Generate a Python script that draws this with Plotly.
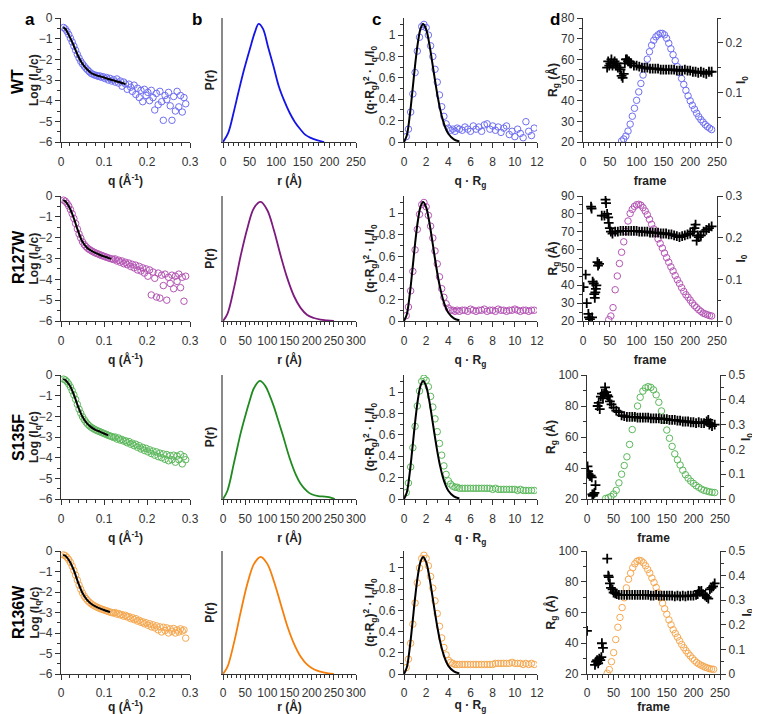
import plotly.graph_objects as go

# ---------------- data ----------------
# column a: log(Iq/c) vs q
Q_A = [0.006, 0.010, 0.014, 0.018, 0.022, 0.026, 0.030, 0.034, 0.038, 0.042, 0.046, 0.050,
       0.054, 0.058, 0.062, 0.066, 0.070, 0.074, 0.078, 0.082, 0.086, 0.090, 0.094, 0.098,
       0.102, 0.106, 0.110, 0.114, 0.118, 0.122, 0.126, 0.130, 0.134, 0.138, 0.142, 0.146,
       0.150, 0.154, 0.158, 0.162, 0.166, 0.170, 0.174, 0.178, 0.182, 0.186, 0.190, 0.194,
       0.198, 0.202, 0.206, 0.210, 0.214, 0.218, 0.222, 0.226, 0.230, 0.234, 0.238, 0.242,
       0.246, 0.250, 0.254, 0.258, 0.262, 0.266, 0.270, 0.274, 0.278, 0.282, 0.286, 0.290]

WT_LOGI = [-0.46, -0.53, -0.65, -0.80, -0.98, -1.16, -1.36, -1.56, -1.76, -1.94, -2.10, -2.22,
           -2.33, -2.43, -2.52, -2.60, -2.68, -2.72, -2.76, -2.78, -2.82, -2.80, -2.87, -2.84,
           -2.93, -2.88, -3.00, -2.92, -3.05, -2.98, -3.10, -2.95, -3.15, -3.05, -3.30, -3.10,
           -3.20, -3.45, -3.20, -3.35, -3.55, -3.25, -3.70, -3.40, -3.85, -3.50, -4.05, -3.45,
           -3.75, -3.60, -4.00, -3.50, -3.85, -4.45, -3.65, -4.20, -3.55, -4.05, -4.95, -3.75,
           -3.95, -3.60, -4.25, -4.95, -3.80, -4.50, -3.55, -4.30, -3.75, -4.55, -3.85, -4.15]
R127W_LOGI = [-0.20, -0.25, -0.35, -0.48, -0.65, -0.85, -1.08, -1.32, -1.58, -1.82, -2.02, -2.20,
              -2.33, -2.43, -2.51, -2.57, -2.62, -2.67, -2.71, -2.75, -2.78, -2.82, -2.85, -2.88,
              -2.91, -2.94, -2.97, -3.00, -3.02, -3.05, -3.02, -3.12, -3.08, -3.18, -3.12, -3.25,
              -3.18, -3.30, -3.22, -3.38, -3.28, -3.45, -3.32, -3.55, -3.38, -3.60, -3.45, -3.70,
              -3.50, -3.85, -3.55, -4.75, -3.65, -3.95, -4.85, -3.70, -4.90, -3.80, -4.30, -3.75,
              -5.00, -3.90, -4.20, -3.80, -4.45, -3.85, -4.10, -3.75, -4.40, -3.90, -5.05, -3.85]
S135F_LOGI = [-0.20, -0.24, -0.32, -0.44, -0.58, -0.76, -0.96, -1.18, -1.42, -1.65, -1.85, -2.02,
              -2.16, -2.28, -2.38, -2.46, -2.53, -2.58, -2.63, -2.67, -2.71, -2.74, -2.78, -2.81,
              -2.85, -2.88, -2.92, -2.95, -2.98, -3.02, -3.00, -3.10, -3.05, -3.15, -3.12, -3.20,
              -3.18, -3.28, -3.22, -3.35, -3.30, -3.42, -3.35, -3.50, -3.42, -3.58, -3.50, -3.65,
              -3.55, -3.72, -3.62, -3.80, -3.68, -3.88, -3.72, -3.95, -3.78, -4.00, -3.82, -4.08,
              -3.85, -4.15, -3.90, -4.10, -3.88, -4.22, -3.92, -4.10, -3.85, -4.30, -3.95, -4.10]
R136W_LOGI = [-0.19, -0.23, -0.31, -0.42, -0.56, -0.74, -0.95, -1.18, -1.42, -1.66, -1.87, -2.05,
              -2.20, -2.32, -2.42, -2.50, -2.57, -2.63, -2.68, -2.72, -2.76, -2.80, -2.83, -2.86,
              -2.89, -2.92, -2.95, -2.98, -3.00, -3.03, -3.00, -3.08, -3.05, -3.12, -3.10, -3.18,
              -3.14, -3.22, -3.20, -3.30, -3.25, -3.35, -3.30, -3.42, -3.38, -3.48, -3.45, -3.55,
              -3.50, -3.62, -3.55, -3.70, -3.60, -3.75, -3.65, -3.85, -3.70, -3.95, -3.72, -3.88,
              -3.75, -4.00, -3.80, -3.92, -3.78, -4.00, -3.85, -3.95, -3.80, -3.90, -3.85, -4.25]

# fitted curves in column a
WT_FIT_Q = [0.005, 0.01, 0.02, 0.03, 0.04, 0.05, 0.06, 0.07, 0.08, 0.09, 0.10, 0.11, 0.12, 0.13, 0.14, 0.15]
WT_FIT = [-0.46, -0.52, -0.90, -1.36, -1.85, -2.22, -2.47, -2.66, -2.75, -2.82, -2.88, -2.95, -3.01, -3.07, -3.13, -3.19]
R127W_FIT_Q = [0.005, 0.01, 0.02, 0.03, 0.04, 0.05, 0.06, 0.07, 0.08, 0.09, 0.10, 0.11, 0.117]
R127W_FIT = [-0.20, -0.25, -0.56, -1.08, -1.70, -2.20, -2.47, -2.62, -2.73, -2.82, -2.90, -2.97, -3.02]
S135F_FIT_Q = [0.005, 0.01, 0.02, 0.03, 0.04, 0.05, 0.06, 0.07, 0.08, 0.09, 0.10, 0.11]
S135F_FIT = [-0.20, -0.24, -0.50, -0.96, -1.54, -2.02, -2.33, -2.52, -2.65, -2.74, -2.83, -2.92]
R136W_FIT_Q = [0.005, 0.01, 0.02, 0.03, 0.04, 0.05, 0.06, 0.07, 0.08, 0.09, 0.10, 0.11, 0.114]
R136W_FIT = [-0.19, -0.23, -0.50, -0.95, -1.55, -2.05, -2.37, -2.57, -2.70, -2.80, -2.88, -2.95, -2.98]

# column b: P(r), normalised to peak
WT_R = [0, 10, 20, 30, 40, 50, 60, 67, 75, 85, 95, 105, 115, 125, 135, 145, 155, 165, 175, 190]
WT_PR = [0, 0.08, 0.25, 0.44, 0.62, 0.78, 0.93, 1.0, 0.96, 0.80, 0.64, 0.47, 0.35, 0.25, 0.17, 0.11, 0.06, 0.035, 0.018, 0]
R127W_R = [0, 10, 25, 40, 55, 70, 85, 100, 115, 130, 145, 160, 175, 190, 205, 220, 235, 250]
R127W_PR = [0, 0.06, 0.28, 0.55, 0.78, 0.95, 1.0, 0.93, 0.76, 0.55, 0.36, 0.21, 0.11, 0.05, 0.025, 0.012, 0.005, 0]
S135F_R = [0, 10, 25, 40, 50, 60, 70, 83, 95, 105, 115, 125, 135, 150, 165, 175, 190, 200, 215, 230, 245, 252]
S135F_PR = [0, 0.07, 0.31, 0.56, 0.70, 0.83, 0.94, 1.0, 0.96, 0.88, 0.78, 0.66, 0.54, 0.35, 0.20, 0.13, 0.065, 0.04, 0.025, 0.02, 0.01, 0]
R136W_R = [0, 10, 25, 40, 55, 70, 85, 100, 115, 130, 145, 160, 175, 190, 205, 220, 235, 250]
R136W_PR = [0, 0.06, 0.27, 0.53, 0.77, 0.94, 1.0, 0.94, 0.79, 0.60, 0.41, 0.26, 0.15, 0.08, 0.04, 0.02, 0.008, 0]

# column c: dimensionless Kratky
X_C = [0.2, 0.4, 0.6, 0.8, 1.0, 1.2, 1.4, 1.6, 1.8, 2.0, 2.2, 2.4, 2.6,
       2.8, 3.0, 3.2, 3.4, 3.6, 3.8, 4.0, 4.2, 4.4, 4.6, 4.8, 5.0, 5.25,
       5.5, 5.75, 6.0, 6.25, 6.5, 6.75, 7.0, 7.25, 7.5, 7.75, 8.0, 8.25, 8.5,
       8.75, 9.0, 9.25, 9.5, 9.75, 10.0, 10.25, 10.5, 10.75, 11.0, 11.25, 11.5, 11.75]
WT_KR = [0.05, 0.12, 0.28, 0.45, 0.65, 0.85, 0.98, 1.08, 1.10, 1.07, 1.00, 0.90, 0.80,
         0.68, 0.56, 0.44, 0.33, 0.24, 0.17, 0.13, 0.11, 0.12, 0.10, 0.13, 0.12, 0.11,
         0.14, 0.12, 0.10, 0.15, 0.12, 0.14, 0.10, 0.16, 0.17, 0.12, 0.15, 0.11, 0.14,
         0.09, 0.13, 0.15, 0.07, 0.10, 0.05, 0.12, 0.08, 0.04, 0.19, 0.10, 0.06, 0.13]
R127W_KR = [0.05, 0.13, 0.28, 0.46, 0.66, 0.85, 0.99, 1.08, 1.10, 1.06, 0.98, 0.88, 0.77,
            0.65, 0.53, 0.41, 0.30, 0.22, 0.16, 0.12, 0.10, 0.10, 0.09, 0.10, 0.09, 0.10,
            0.10, 0.09, 0.11, 0.10, 0.09, 0.10, 0.10, 0.11, 0.09, 0.10, 0.10, 0.09, 0.11,
            0.10, 0.10, 0.09, 0.10, 0.10, 0.11, 0.10, 0.09, 0.10, 0.10, 0.09, 0.10, 0.10]
S135F_KR = [0.06, 0.15, 0.30, 0.48, 0.68, 0.87, 1.01, 1.10, 1.13, 1.11, 1.05, 0.96, 0.86,
            0.75, 0.63, 0.52, 0.41, 0.31, 0.23, 0.17, 0.14, 0.12, 0.11, 0.11, 0.10, 0.10,
            0.10, 0.10, 0.10, 0.10, 0.10, 0.10, 0.10, 0.10, 0.10, 0.10, 0.09, 0.10, 0.09,
            0.09, 0.09, 0.09, 0.09, 0.09, 0.09, 0.08, 0.09, 0.08, 0.08, 0.08, 0.08, 0.08]
R136W_KR = [0.06, 0.14, 0.29, 0.47, 0.67, 0.86, 1.00, 1.09, 1.12, 1.09, 1.02, 0.92, 0.81,
            0.69, 0.57, 0.45, 0.34, 0.25, 0.18, 0.13, 0.11, 0.10, 0.09, 0.09, 0.09, 0.09,
            0.09, 0.09, 0.09, 0.09, 0.09, 0.09, 0.09, 0.09, 0.09, 0.09, 0.09, 0.10, 0.10,
            0.10, 0.10, 0.10, 0.10, 0.11, 0.10, 0.10, 0.10, 0.09, 0.10, 0.09, 0.10, 0.09]
# globular reference curve
KR_X = [0, 0.25, 0.5, 0.75, 1.0, 1.25, 1.5, 1.73, 2.0, 2.25, 2.5, 2.75, 3.0, 3.25, 3.5, 3.75, 4.0, 4.5, 5.0]
KR_Y = [0, 0.061, 0.230, 0.466, 0.717, 0.928, 1.063, 1.104, 1.054, 0.937, 0.778, 0.608, 0.448, 0.312,
        0.207, 0.130, 0.077, 0.024, 0.006]

# column d: Rg (crosses, left) and I0 (circles, right) vs frame
WT_RG_F = [45, 47, 49, 51, 53, 55, 57, 59, 61, 63, 65, 68, 70, 72, 74, 76, 78, 80, 82, 84, 86, 88, 90,
           95, 100, 105, 110, 115, 120, 125, 130, 135, 140, 145, 150, 155, 160, 165, 170, 175, 180,
           185, 190, 195, 200, 205, 210, 215, 220, 225, 230, 235, 240]
WT_RG = [56, 59, 57, 58, 60, 57, 58, 59, 57, 58, 56, 56, 55, 52, 51, 53, 58, 60, 60, 59, 59, 58, 58,
         57, 57, 56.5, 56, 56, 56, 55.5, 55.5, 55.5, 55.5, 55, 55, 55, 55, 55, 55, 54.5, 54.5,
         54.5, 55, 54.5, 54.5, 54, 54, 53.5, 54, 53.5, 53, 54, 54]
WT_I0_F = [72, 76, 80, 84, 88, 92, 96, 100, 104, 108, 112, 116, 120, 124, 128, 132, 136, 140, 144,
           148, 152, 156, 160, 164, 168, 172, 176, 180, 184, 188, 192, 196, 200, 204, 208, 212, 216,
           220, 224, 228, 232, 236, 240]
WT_I0 = [0.002, 0.006, 0.012, 0.022, 0.036, 0.052, 0.068, 0.084, 0.101, 0.118, 0.135, 0.152, 0.167,
         0.182, 0.195, 0.205, 0.212, 0.216, 0.219, 0.219, 0.216, 0.209, 0.199, 0.188, 0.176, 0.164,
         0.152, 0.140, 0.128, 0.116, 0.104, 0.093, 0.083, 0.074, 0.066, 0.058, 0.051, 0.045, 0.040,
         0.035, 0.031, 0.028, 0.025]

R127W_RG_F = [1, 5, 7, 10, 11, 13, 15, 16, 17, 18, 20, 21, 22, 23, 24, 25, 27, 28, 30, 35,
              40, 42, 43, 45, 47, 48, 50, 52, 55, 60, 65, 70, 75, 80, 85, 90, 95, 100, 105, 110,
              115, 120, 125, 130, 135, 140, 145, 150, 155, 160, 165, 170, 175, 180, 185, 190, 195,
              200, 205, 208, 210, 212, 214, 216, 220, 225, 230, 235, 240]
R127W_RG = [39, 46, 30, 24, 22, 21, 84, 83, 22, 42, 41, 35, 33, 36, 38, 40, 53, 51, 52, 79,
            79, 88, 86, 80, 78, 75, 72, 70, 69, 70, 70, 70.5, 70.5, 70.5, 70.5, 70.5, 70.5, 70.5, 70, 70,
            70, 70, 69.5, 69.5, 69.5, 69.5, 69, 69, 69, 68.5, 68.5, 68, 67.5, 67, 67.5, 68, 68.5,
            69, 70, 72, 74, 65, 68, 67, 68, 70, 71, 72, 73]
R127W_I0_F = [48, 52, 56, 60, 64, 68, 72, 76, 80, 84, 88, 92, 96, 100, 104, 108, 112, 116, 120, 124,
              128, 132, 136, 140, 144, 148, 152, 156, 160, 164, 168, 172, 176, 180, 184, 188, 192,
              196, 200, 204, 208, 212, 216, 220, 224, 228, 232, 236, 240]
R127W_I0 = [0.003, 0.012, 0.032, 0.075, 0.108, 0.138, 0.165, 0.190, 0.215, 0.240, 0.258, 0.268, 0.275,
            0.279, 0.280, 0.278, 0.272, 0.264, 0.255, 0.244, 0.232, 0.221, 0.210, 0.197, 0.186, 0.175,
            0.163, 0.152, 0.141, 0.130, 0.120, 0.109, 0.099, 0.090, 0.080, 0.071, 0.063, 0.057, 0.050,
            0.043, 0.037, 0.032, 0.027, 0.023, 0.019, 0.017, 0.015, 0.013, 0.012]

S135F_RG_F = [1, 2, 3, 5, 7, 9, 10, 11, 12, 14, 16, 20, 22, 24, 26, 28, 30, 32, 34, 36, 38, 40, 43, 46,
              50, 55, 60, 65, 70, 75, 80, 85, 90, 95, 100, 105, 110, 115, 120, 125, 130, 135, 140, 145,
              150, 155, 160, 165, 170, 175, 180, 185, 190, 195, 200, 205, 210, 215, 220, 225, 228, 230,
              232, 235, 240]
S135F_RG = [41, 38, 36, 35, 35, 34, 23, 22, 23, 24, 29, 80, 82, 78, 86, 88, 85, 88, 92, 89, 87, 86, 83, 81,
            79, 77, 76, 74, 73.5, 73, 73, 73, 73, 72.5, 72.5, 72.5, 72.5, 72.5, 72, 72, 72, 72, 71.5, 71.5,
            71.5, 71, 71, 71, 70.5, 70.5, 70, 70, 70, 69.5, 69.5, 69, 69.5, 69, 69, 70, 71, 68,
            69, 67, 68]
S135F_I0_F = [35, 40, 45, 50, 55, 60, 65, 70, 75, 80, 85, 90, 95, 100, 105, 110, 115, 120, 125, 130,
              135, 140, 145, 150, 155, 160, 165, 170, 175, 180, 185, 190, 195, 200, 205, 210, 215, 220,
              225, 230, 235, 240]
S135F_I0 = [0.002, 0.005, 0.010, 0.020, 0.035, 0.065, 0.100, 0.135, 0.170, 0.220, 0.280, 0.330, 0.375,
            0.410, 0.435, 0.448, 0.453, 0.450, 0.440, 0.420, 0.390, 0.355, 0.318, 0.278, 0.245, 0.212,
            0.182, 0.158, 0.137, 0.116, 0.098, 0.084, 0.072, 0.063, 0.054, 0.047, 0.040, 0.035, 0.032,
            0.029, 0.027, 0.026]

R136W_RG_F = [0, 15, 17, 19, 21, 23, 25, 27, 28, 30, 38, 40, 41, 43, 45, 48, 50, 53, 56, 60,
              65, 70, 75, 80, 85, 90, 95, 100, 105, 110, 115, 120, 125, 130, 135, 140, 145, 150, 155,
              160, 165, 170, 175, 180, 185, 190, 195, 200, 205, 208, 210, 212, 215, 218, 222, 225, 228,
              231, 234, 237, 240]
R136W_RG = [48, 26, 28, 29, 27, 30, 29, 31, 40, 37, 95, 84, 83, 79, 76, 75, 73, 72.5, 72, 71.5,
            71.5, 71.5, 71.5, 71.5, 71.5, 71.5, 71.5, 71.5, 71.5, 71.5, 71.5, 71, 71, 71.5, 71, 71, 71, 71, 71,
            71, 70.5, 71, 70.5, 71, 70.5, 71, 71, 71, 71.5, 72, 74, 73.5, 74, 72, 71, 70, 69,
            75, 76, 77, 79]
R136W_I0_F = [38, 42, 46, 50, 54, 58, 62, 66, 70, 74, 78, 82, 86, 90, 94, 98, 102, 106, 110, 114,
              118, 122, 126, 130, 134, 138, 142, 146, 150, 154, 158, 162, 166, 170, 174, 178, 182, 186,
              190, 194, 198, 202, 206, 210, 214, 218, 222, 226, 230, 234, 238]
R136W_I0 = [0.003, 0.018, 0.050, 0.087, 0.140, 0.190, 0.230, 0.270, 0.310, 0.350, 0.385, 0.410, 0.432,
            0.448, 0.458, 0.462, 0.460, 0.452, 0.440, 0.425, 0.410, 0.390, 0.372, 0.352, 0.330, 0.310,
            0.288, 0.265, 0.243, 0.220, 0.200, 0.180, 0.165, 0.150, 0.135, 0.120, 0.107, 0.095, 0.084,
            0.074, 0.064, 0.055, 0.047, 0.041, 0.036, 0.032, 0.028, 0.025, 0.022, 0.020, 0.019]

SAMPLES = ["WT", "R127W", "S135F", "R136W"]
LINE_COLORS = ["#1414e6", "#7d1a7d", "#1f8a1f", "#f57f0a"]
DOT_COLORS = ["#6f6ff2", "#b455b4", "#5cb85c", "#f5a850"]
PR_XMAX = [250, 300, 300, 300]
RG_RANGES = [[20, 80], [20, 90], [20, 100], [20, 100]]
RG_DTICK = [10, 10, 20, 20]
I0_MAX = [0.25, 0.3, 0.5, 0.5]

LOGI = [WT_LOGI, R127W_LOGI, S135F_LOGI, R136W_LOGI]
FIT_Q = [WT_FIT_Q, R127W_FIT_Q, S135F_FIT_Q, R136W_FIT_Q]
FIT = [WT_FIT, R127W_FIT, S135F_FIT, R136W_FIT]
PR_R = [WT_R, R127W_R, S135F_R, R136W_R]
PR = [WT_PR, R127W_PR, S135F_PR, R136W_PR]
KR = [WT_KR, R127W_KR, S135F_KR, R136W_KR]
RG_F = [WT_RG_F, R127W_RG_F, S135F_RG_F, R136W_RG_F]
RG = [WT_RG, R127W_RG, S135F_RG, R136W_RG]
I0_F = [WT_I0_F, R127W_I0_F, S135F_I0_F, R136W_I0_F]
I0 = [WT_I0, R127W_I0, S135F_I0, R136W_I0]

# ---------------- layout helpers ----------------
# the page body adds an 8px margin, so the figure is drawn 8px in from the window corner
OFF = 8
W, H = 752, 706
FONT = "Liberation Sans, Arial, sans-serif"
AXC = "#333333"
COL_X = [(61, 190), (223, 356), (404, 537), (583, 717)]
COL_D_WIDE = (587, 720)
ROW_Y = [(18, 142), (196, 321), (375, 499), (551, 674)]
TITLE_FONT = dict(family=FONT, size=12, color="#222", weight="bold")


def dom_x(px):
    return [(px[0] - OFF) / W, (px[1] - OFF) / W]


def dom_y(py):
    return [1 - (py[1] - OFF) / H, 1 - (py[0] - OFF) / H]


def px_x(x):
    return (x - OFF) / W


def px_y(y):
    return 1 - (y - OFF) / H


def axis(title, minor=None, standoff=None, **kw):
    t = dict(text=title, font=TITLE_FONT)
    if standoff is not None:
        t["standoff"] = standoff
    d = dict(showline=True, linecolor=AXC, linewidth=1.3, ticks="outside", ticklen=5,
             tickwidth=1.3, tickcolor=AXC, showgrid=False, zeroline=False, automargin=False,
             tickangle=0, tickfont=dict(family=FONT, size=12, color="#333"), title=t)
    if minor is not None:
        d["minor"] = dict(dtick=minor, ticks="outside", ticklen=2.5, tickwidth=1, tickcolor=AXC, showgrid=False)
    d.update(kw)
    return d


def xaxis(title, minor, last_row, **kw):
    return axis(title, minor=minor, standoff=6 if last_row else 9,
                ticklabelstandoff=2 if last_row else 3, **kw)


def key(prefix, n):
    return prefix + "axis" + ("" if n == 1 else str(n))


def ref(prefix, n):
    return prefix + ("" if n == 1 else str(n))


fig = go.Figure()
lay = {}
annotations = []

for i in range(4):
    pa, pb, pc, pd = 4 * i + 1, 4 * i + 2, 4 * i + 3, 4 * i + 4
    prg = 17 + i
    last = i == 3
    ydom = dom_y(ROW_Y[i])
    row_mid = (ROW_Y[i][0] + ROW_Y[i][1]) / 2
    col_d = COL_X[3] if i < 2 else COL_D_WIDE

    # a: scattering curve
    fig.add_trace(go.Scatter(x=Q_A, y=LOGI[i], mode="markers", xaxis=ref("x", pa), yaxis=ref("y", pa),
                             marker=dict(symbol="circle-open", size=6.5, color=DOT_COLORS[i], line=dict(width=1))))
    fig.add_trace(go.Scatter(x=FIT_Q[i], y=FIT[i], mode="lines", line=dict(color="black", width=2, shape="spline"),
                             xaxis=ref("x", pa), yaxis=ref("y", pa)))
    lay[key("x", pa)] = xaxis("q (Å<sup>-1</sup>)", 0.02, last, domain=dom_x(COL_X[0]),
                             anchor=ref("y", pa), range=[0, 0.3], dtick=0.1, tick0=0)
    lay[key("y", pa)] = axis("", minor=0.5, domain=ydom, anchor=ref("x", pa),
                            range=[-6, 0], dtick=1, tick0=0)
    annotations.append(dict(text="Log (I<sub>q</sub>/c)", x=px_x(35), y=px_y(row_mid), xref="paper", yref="paper",
                            xanchor="center", yanchor="middle", showarrow=False, textangle=-90, font=TITLE_FONT))

    # b: pair distance distribution
    fig.add_trace(go.Scatter(x=PR_R[i], y=PR[i], mode="lines", line=dict(color=LINE_COLORS[i], width=1.8, shape="spline"),
                             xaxis=ref("x", pb), yaxis=ref("y", pb)))
    lay[key("x", pb)] = xaxis("r (Å)", 10, last, domain=dom_x(COL_X[1]), anchor=ref("y", pb),
                             range=[0, PR_XMAX[i]], dtick=50, tick0=0)
    lay[key("y", pb)] = axis("P(r)", domain=ydom, anchor=ref("x", pb), range=[0, 1.05],
                            ticks="", showticklabels=False, linecolor="#8a8a8a", linewidth=1.6, standoff=4)

    # c: dimensionless Kratky
    fig.add_trace(go.Scatter(x=X_C, y=KR[i], mode="markers", xaxis=ref("x", pc), yaxis=ref("y", pc),
                             marker=dict(symbol="circle-open", size=6.5, color=DOT_COLORS[i], line=dict(width=1))))
    fig.add_trace(go.Scatter(x=KR_X, y=KR_Y, mode="lines", line=dict(color="black", width=2, shape="spline"),
                             xaxis=ref("x", pc), yaxis=ref("y", pc)))
    lay[key("x", pc)] = xaxis("q · R<sub>g</sub>", 1, last, domain=dom_x(COL_X[2]),
                             anchor=ref("y", pc), range=[0, 12], dtick=2, tick0=0)
    lay[key("y", pc)] = axis("(q·R<sub>g</sub>)<sup>2</sup> · I<sub>q</sub>/I<sub>0</sub>", minor=0.1, standoff=0,
                            domain=ydom, anchor=ref("x", pc), range=[0, 1.16], dtick=0.2, tick0=0)

    # d: SEC elution, I0 on the right (base), Rg on the left (overlay, drawn on top)
    fig.add_trace(go.Scatter(x=I0_F[i], y=I0[i], mode="markers", xaxis=ref("x", pd), yaxis=ref("y", pd),
                             marker=dict(symbol="circle-open", size=6.5, color=DOT_COLORS[i], line=dict(width=1))))
    fig.add_trace(go.Scatter(x=RG_F[i], y=RG[i], mode="markers", xaxis=ref("x", pd), yaxis=ref("y", prg),
                             marker=dict(symbol="cross-thin", size=7, color="black", line=dict(width=1.8, color="black"))))
    lay[key("x", pd)] = xaxis("frame", 10, last, domain=dom_x(col_d), anchor=ref("y", pd),
                             range=[0, 250], dtick=50, tick0=0)
    lay[key("y", pd)] = axis("", minor=0.05, domain=ydom, anchor=ref("x", pd), side="right",
                            range=[0, I0_MAX[i]], dtick=0.1, tick0=0)
    annotations.append(dict(text="I<sub>0</sub>", x=px_x(742 if i < 2 else 747), y=px_y(row_mid),
                            xref="paper", yref="paper", xanchor="center", yanchor="middle", showarrow=False,
                            textangle=-90, font=TITLE_FONT))
    lay[key("y", prg)] = axis("R<sub>g</sub> (Å)", minor=RG_DTICK[i] / 2, standoff=0, anchor=ref("x", pd),
                             overlaying=ref("y", pd), side="left", range=RG_RANGES[i], dtick=RG_DTICK[i], tick0=0)

for letter, x in zip("abcd", [30, 197, 376, 555]):
    annotations.append(dict(text=letter, x=px_x(x), y=1, xref="paper", yref="paper",
                            xanchor="center", yanchor="top", showarrow=False,
                            font=dict(family=FONT, size=17, color="black", weight="bold")))
for name, y in zip(SAMPLES, [82, 257, 438, 612]):
    annotations.append(dict(text=name, x=px_x(18), y=px_y(y), xref="paper", yref="paper",
                            xanchor="center", yanchor="middle", showarrow=False, textangle=-90,
                            font=dict(family=FONT, size=16, color="black", weight="bold")))

fig.update_layout(width=W, height=H, margin=dict(l=0, r=0, t=0, b=0), template="none",
                  paper_bgcolor="white", plot_bgcolor="rgba(0,0,0,0)", showlegend=False,
                  font=dict(family=FONT), annotations=annotations, **lay)

fig.write_html("out.html")
